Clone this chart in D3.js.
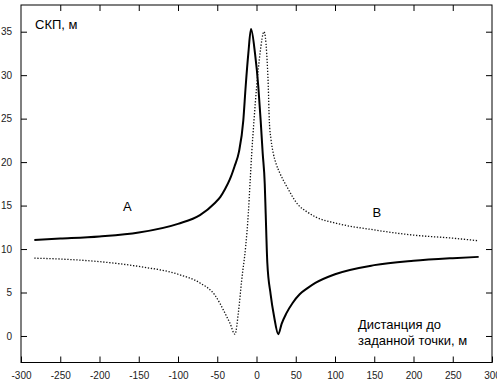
<!DOCTYPE html>
<html>
<head>
<meta charset="utf-8">
<script src="https://cdn.jsdelivr.net/npm/d3@7"></script>
<style>
  body { margin: 0; background: #fff; }
  svg { display: block; }
  .tick text { font-family: "Liberation Sans", Arial, sans-serif; font-size: 10px; fill: #222; }
</style>
</head>
<body>
<svg class="d3"></svg>
<script>
var xTicks = [-300, -250, -200, -150, -100, -50, 0, 50, 100, 150, 200, 250, 300];
var yTicks = [0, 5, 10, 15, 20, 25, 30, 35];

var distA = [-283, -250, -200, -150, -100, -72, -53, -46, -40, -34, -28, -22.3, -16.8, -13.8, -10.4, -7, -1.9, 2.3, 5.3, 7.9, 10.5, 11.7, 13.8, 18, 22.3, 27.8, 32, 38, 46, 55, 65, 75, 100, 150, 200, 250, 283];
var skpA = [11.05, 11.2, 11.45, 11.9, 12.9, 13.9, 15.3, 16.0, 16.9, 18.0, 19.5, 21.2, 24.8, 28.7, 32.5, 35.3, 32.5, 28.7, 24.8, 21.0, 17.5, 14.1, 8.4, 4.8, 2.3, 0.2, 1.4, 2.6, 3.8, 4.8, 5.5, 6.1, 7.1, 8.15, 8.65, 8.95, 9.1];

var distB = [-283, -250, -200, -150, -100, -72, -53, -40, -33.8, -27.4, -23.2, -18.9, -13.8, -10.4, -8.3, -6.1, -3.2, 0.2, 4.5, 9.6, 13, 15, 16.3, 18.5, 21.4, 25, 29.9, 38.5, 53, 64, 75, 100, 150, 200, 250, 283];
var skpB = [8.95, 8.85, 8.55, 8.0, 7.1, 6.1, 4.7, 2.6, 1.46, 0.2, 2.6, 6.4, 10.3, 14.1, 17.5, 21.0, 24.8, 28.7, 32.5, 35.0, 32.5, 28.7, 24.8, 22.6, 21.0, 19.8, 18.7, 17.2, 15.1, 14.3, 13.7, 13.0, 12.2, 11.6, 11.25, 10.95];

var W = 497, H = 382;
var mLeft = 21, mRight = 492, mTop = 5, mBottom = 362.5;

var svg = d3.select("svg.d3").attr("width", W).attr("height", H);

var x = d3.scaleLinear().domain([-300, 300]).range([mLeft, mRight]);
var y = d3.scaleLinear().domain([-3.05, 38.07]).range([mBottom, mTop]);

function plain(g) {
  g.select(".domain").remove();
  g.selectAll("line").attr("stroke", "#000");
}

svg.append("g").attr("transform", "translate(0," + mBottom + ")")
  .call(d3.axisBottom(x).tickValues(xTicks).tickSizeInner(-6).tickSizeOuter(0).tickPadding(9).tickFormat(String))
  .call(plain);

svg.append("g").attr("transform", "translate(0," + mTop + ")")
  .call(d3.axisTop(x).tickValues(xTicks.slice(1, -1)).tickSizeInner(-6).tickSizeOuter(0).tickFormat(""))
  .call(plain);

svg.append("g").attr("transform", "translate(" + mLeft + ",0)")
  .call(d3.axisLeft(y).tickValues(yTicks).tickSizeInner(-6).tickSizeOuter(0).tickPadding(9).tickFormat(String))
  .call(plain);

svg.append("g").attr("transform", "translate(" + mRight + ",0)")
  .call(d3.axisRight(y).tickValues(yTicks).tickSizeInner(-6).tickSizeOuter(0).tickFormat(""))
  .call(plain);

svg.append("rect").attr("x", mLeft).attr("y", mTop).attr("width", mRight - mLeft).attr("height", mBottom - mTop)
  .attr("fill", "none").attr("stroke", "#000").attr("stroke-width", 1);

var line = d3.line().x(function(d) { return x(d[0]); }).y(function(d) { return y(d[1]); }).curve(d3.curveMonotoneX);

svg.append("path").datum(d3.zip(distB, skpB)).attr("d", line)
  .attr("fill", "none").attr("stroke", "#111").attr("stroke-width", 1.3).attr("stroke-dasharray", "1.3,1.7");

svg.append("path").datum(d3.zip(distA, skpA)).attr("d", line)
  .attr("fill", "none").attr("stroke", "#000").attr("stroke-width", 2);

var font = "'Liberation Sans', Arial, sans-serif";
svg.append("text").attr("x", 35).attr("y", 28.5).attr("font-family", font).attr("font-size", 13).text("СКП, м");
svg.append("text").attr("x", 123).attr("y", 210.5).attr("font-family", font).attr("font-size", 13).text("A");
svg.append("text").attr("x", 372.5).attr("y", 216.7).attr("font-family", font).attr("font-size", 13).text("B");
svg.append("text").attr("x", 358).attr("y", 328.5).attr("font-family", font).attr("font-size", 13).text("Дистанция до");
svg.append("text").attr("x", 358).attr("y", 345).attr("font-family", font).attr("font-size", 13).text("заданной точки, м");
</script>
</body>
</html>
